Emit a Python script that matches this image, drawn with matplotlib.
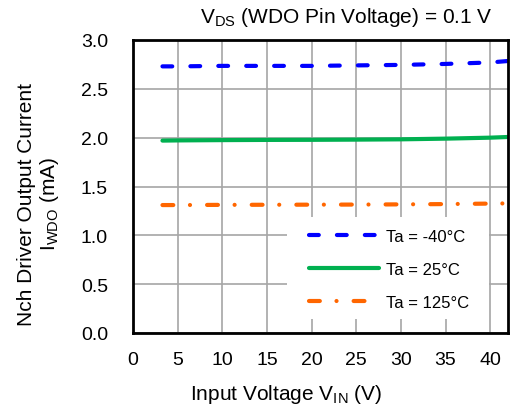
import matplotlib
matplotlib.use("Agg")
import matplotlib.pyplot as plt
from matplotlib.patches import Rectangle

plt.rcParams['font.family'] = ['Liberation Sans', 'DejaVu Sans']
plt.rcParams['mathtext.fontset'] = 'custom'
plt.rcParams['mathtext.rm'] = 'Liberation Sans'

vin = [3.3, 5, 10, 15, 20, 25, 30, 35, 40, 42]
i_m40 = [2.73, 2.73, 2.735, 2.735, 2.735, 2.74, 2.745, 2.755, 2.77, 2.785]
i_25 = [1.97, 1.972, 1.975, 1.977, 1.978, 1.98, 1.983, 1.99, 2.0, 2.007]
i_125 = [1.31, 1.31, 1.312, 1.313, 1.314, 1.315, 1.317, 1.32, 1.325, 1.327]
labels = ['Ta = -40°C', 'Ta = 25°C', 'Ta = 125°C']
xticks = [0, 5, 10, 15, 20, 25, 30, 35, 40]
yticks = [0.0, 0.5, 1.0, 1.5, 2.0, 2.5, 3.0]

W, H = 511, 414
fig = plt.figure(figsize=(W / 100, H / 100), dpi=100)
ax = fig.add_axes([133 / W, 1 - 334 / H, 375 / W, 293 / H])

l1, = ax.plot(vin, i_m40, color='#0000ff', lw=3, linestyle=(0, (2.35, 4.35)),
              dash_capstyle='round', label=labels[0])
l2, = ax.plot(vin, i_25, color='#00b050', lw=3, linestyle='-',
              solid_capstyle='round', label=labels[1])
l3, = ax.plot(vin, i_125, color='#ff6600', lw=3, linestyle=(0, (2.6, 4.0, 0.01, 4.1)),
              dash_capstyle='round', label=labels[2])

ax.set_xlim(0, 42)
ax.set_ylim(0, 3.0)
ax.set_xticks(xticks)
ax.set_yticks(yticks)
ax.set_yticklabels([f'{v:.1f}' for v in yticks])
ax.tick_params(axis='both', length=0, labelsize=14)
ax.tick_params(axis='x', pad=13)
ax.tick_params(axis='y', pad=18)
ax.grid(True, color='#a6a6a6', lw=1.2)
ax.set_axisbelow(True)
for s in ax.spines.values():
    s.set_linewidth(2)
    s.set_color('black')

fig.text(286 / W, 1 - 400 / H, 'Input Voltage V$_{\\mathregular{IN}}$ (V)', fontsize=15,
         ha='center', va='baseline')
fig.text(39 / W, 1 - 204 / H, 'Nch Driver Output Current\nI$_{\\mathregular{WDO}}$ (mA)',
         fontsize=15, rotation=90, ha='center', va='center', multialignment='center',
         linespacing=1.15)
fig.text(493 / W, 1 - 23 / H, 'V$_{\\mathregular{DS}}$ (WDO Pin Voltage) = 0.1 V',
         ha='right', va='baseline', fontsize=15)

# white legend background
ax.add_patch(Rectangle(((287 - 133) / 375, (334 - 320) / 293), 202 / 375, 102 / 293,
                       transform=ax.transAxes, facecolor='white', edgecolor='none', zorder=2.5))

leg = ax.legend(loc='upper left', bbox_to_anchor=((309 - 133) / 375, (334 - 230) / 293),
                frameon=False, fontsize=12, borderpad=0, borderaxespad=0,
                handlelength=4.2, handletextpad=0.4, labelspacing=1.07)
leg.set_zorder(3)

fig.savefig('out.png', dpi=100)
